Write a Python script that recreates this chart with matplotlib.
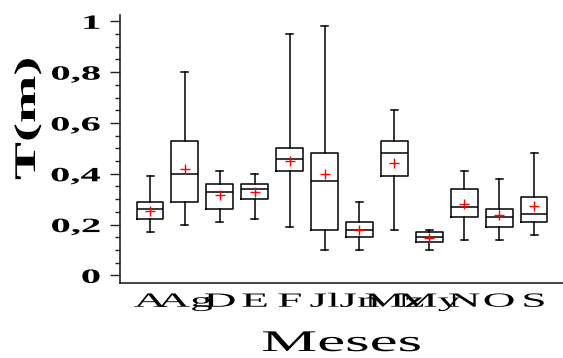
import matplotlib
matplotlib.use("Agg")
import matplotlib.pyplot as plt
from matplotlib.patheffects import AbstractPathEffect
from matplotlib.transforms import Affine2D
from matplotlib.ticker import MultipleLocator

# Monthly summaries of T (m)
months = ["A", "Ag", "D", "E", "F", "Jl", "Jn", "Mz", "My", "N", "O", "S"]
whis_low = [0.17, 0.20, 0.21, 0.22, 0.19, 0.10, 0.10, 0.18, 0.10, 0.14, 0.14, 0.16]
q1 = [0.22, 0.29, 0.26, 0.30, 0.41, 0.18, 0.15, 0.39, 0.13, 0.23, 0.19, 0.21]
medians = [0.26, 0.40, 0.33, 0.34, 0.46, 0.37, 0.18, 0.48, 0.15, 0.27, 0.23, 0.24]
q3 = [0.29, 0.53, 0.36, 0.36, 0.50, 0.48, 0.21, 0.53, 0.17, 0.34, 0.26, 0.31]
whis_high = [0.39, 0.80, 0.41, 0.40, 0.95, 0.98, 0.29, 0.65, 0.18, 0.41, 0.38, 0.48]
means = [0.255, 0.42, 0.315, 0.327, 0.452, 0.40, 0.178, 0.443, 0.149, 0.282, 0.236, 0.274]

y_ticks = [0, 0.2, 0.4, 0.6, 0.8, 1]
y_tick_labels = ["0", "0,2", "0,4", "0,6", "0,8", "1"]

plt.rcParams["font.family"] = ["Liberation Serif", "DejaVu Serif"]


class Widen(AbstractPathEffect):
    """Draw text glyphs stretched along the writing direction."""

    def __init__(self, factor, anchor=0.5):
        super().__init__()
        self.factor = factor
        self.anchor = anchor

    def draw_path(self, renderer, gc, tpath, affine, rgbFace=None):
        ext = tpath.get_extents()
        x0 = ext.x0 + self.anchor * ext.width
        widen = Affine2D().translate(-x0, 0).scale(self.factor, 1).translate(x0, 0)
        renderer.draw_path(gc, tpath, widen + affine, rgbFace)


fig = plt.figure(figsize=(5.63, 3.58), dpi=100)
ax = fig.add_axes([120 / 563, 75 / 358, 443 / 563, 268 / 358])

stats = [
    dict(label=m, whislo=lo, q1=a, med=md, q3=b, whishi=hi, mean=mn, fliers=[])
    for m, lo, a, md, b, hi, mn in zip(months, whis_low, q1, medians, q3, whis_high, means)
]
positions = list(range(1, len(months) + 1))
line = dict(color="black", linewidth=1.1)
ax.bxp(
    stats,
    positions=positions,
    widths=0.77,
    capwidths=0.2,
    showmeans=True,
    showfliers=False,
    boxprops=line,
    whiskerprops=line,
    capprops=line,
    medianprops=line,
    meanprops=dict(marker="+", markeredgecolor="red", markersize=7,
                   markeredgewidth=1.0, linestyle="none"),
)

ax.set_xlim(0.14, 12.83)
ax.set_ylim(-0.03, 1.025)

for side in ("top", "right"):
    ax.spines[side].set_visible(False)
for side in ("left", "bottom"):
    ax.spines[side].set_color("#222222")
    ax.spines[side].set_linewidth(1.2)

ax.set_yticks(y_ticks, labels=y_tick_labels)
ax.yaxis.set_minor_locator(MultipleLocator(0.05))
ax.tick_params(axis="y", which="major", length=7.2, width=1.0, direction="out",
               pad=7, labelsize=14.6, color="#222222")
ax.tick_params(axis="y", which="minor", length=3.6, width=1.0, direction="out",
               color="#222222")
ax.tick_params(axis="x", length=0, pad=7, labelsize=14.5)

for lab in ax.get_yticklabels():
    lab.set_fontweight("bold")
    lab.set_path_effects([Widen(2.0, anchor=1.0)])
for lab in ax.get_xticklabels():
    lab.set_path_effects([Widen(2.25, anchor=0.5)])

ax.set_xlabel("Meses", fontsize=21.6, va="baseline",
              path_effects=[Widen(2.1, anchor=0.5)])
ax.xaxis.set_label_coords(0.5, (283 - 351) / 268)

ax.set_ylabel("T(m)", fontsize=21.6, fontweight="bold", va="baseline",
              path_effects=[Widen(1.9, anchor=0.5)])
ax.yaxis.set_label_coords((35 - 120) / 443, (283 - 118.7) / 268)

fig.savefig("out.png", dpi=100)
